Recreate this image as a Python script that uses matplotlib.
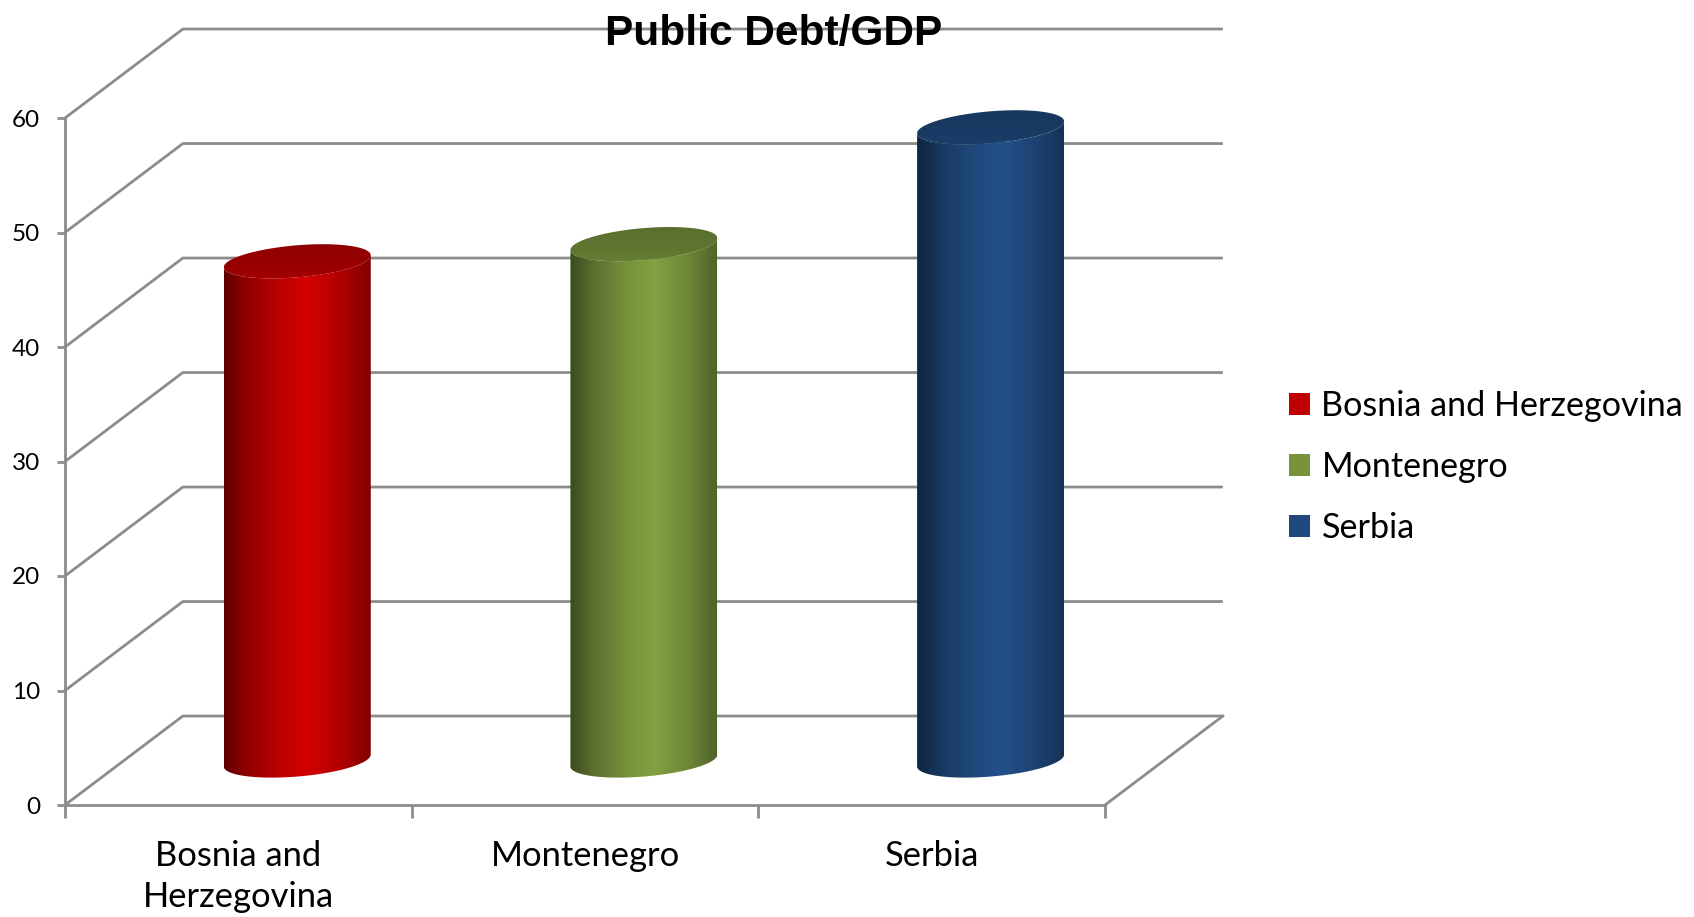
import numpy as np
import matplotlib
matplotlib.use('Agg')
import matplotlib.pyplot as plt
from matplotlib.patches import Polygon, Patch

plt.rcParams.update({'font.family': ['Lato', 'DejaVu Sans']})

# data
countries = ['Bosnia and Herzegovina', 'Montenegro', 'Serbia']
cat_labels = ['Bosnia and\nHerzegovina', 'Montenegro', 'Serbia']
debt = [43.6, 45.1, 55.3]
yticks = [0, 10, 20, 30, 40, 50, 60]
colors = ['#c00000', '#77933c', '#1f497d']

# fake 3d look: how far the back wall is shifted (data units)
dep_x, dep_y = 0.34, 7.77
grid_col = '#8c8c8c'


def shade(col, f):
    rgb = np.array(matplotlib.colors.to_rgb(col))
    return np.clip(rgb * f, 0, 1)


def cylinder(ax, cx, base, top, col, a=0.212, b=1.40, s=0.52):
    # front half of the ellipse, left -> right
    tl = np.linspace(np.pi, 2 * np.pi, 120)
    ex = cx + a * np.cos(tl)
    eo = b * np.sin(tl) + s * np.cos(tl)
    xs = np.concatenate([ex, ex[::-1]])
    ys = np.concatenate([base + eo, top + eo[::-1]])
    body = Polygon(np.column_stack([xs, ys]), closed=True, fc='none', ec='none')
    ax.add_patch(body)

    u = np.linspace(-1, 1, 200)
    f = np.interp(u, [-1, -0.7, -0.2, 0.15, 0.6, 1], [0.5, 0.75, 1.0, 1.1, 0.92, 0.68])
    img = np.array([[shade(col, fi) for fi in f]])
    im = ax.imshow(img, extent=[cx - a, cx + a, base - 3, top + 3], aspect='auto',
                   interpolation='bilinear', zorder=3)
    im.set_clip_path(body)

    # top cap, a bit lighter towards the front edge
    t = np.linspace(0, 2 * np.pi, 240)
    cap = Polygon(np.column_stack([cx + a * np.cos(t), top + b * np.sin(t) + s * np.cos(t)]),
                  closed=True, fc='none', ec='none')
    ax.add_patch(cap)
    v = np.linspace(0, 1, 60)
    fc = np.interp(v, [0, 0.35, 1], [0.9, 0.8, 0.74])
    cimg = np.array([[shade(col, fi)] for fi in fc])
    ci = ax.imshow(cimg, extent=[cx - a, cx + a, top - b - s - 0.2, top + b + s + 0.2],
                   origin='lower', aspect='auto', interpolation='bilinear', zorder=4)
    ci.set_clip_path(cap)


fig = plt.figure(figsize=(16.94, 9.17), dpi=100)
ax = fig.add_axes([65 / 1694, 112 / 917, 1040 / 1694, 68 * 11.45 / 917])

# walls and gridlines
for v in yticks:
    ax.plot([-0.5, -0.5 + dep_x, 2.5 + dep_x], [v, v + dep_y, v + dep_y],
            color=grid_col, lw=2, clip_on=False, zorder=1, solid_capstyle='butt')
ax.plot([2.5, 2.5 + dep_x], [0, dep_y], color=grid_col, lw=2, clip_on=False, zorder=1)

for i, v in enumerate(debt):
    cylinder(ax, i + dep_x / 2, dep_y / 2, v + dep_y / 2, colors[i])

ax.set_xlim(-0.5, 2.5)
ax.set_ylim(0, 68)

for k in ['top', 'right']:
    ax.spines[k].set_visible(False)
for k in ['left', 'bottom']:
    ax.spines[k].set_color(grid_col)
    ax.spines[k].set_linewidth(2)
ax.spines['left'].set_bounds(0, 60)
ax.spines['bottom'].set_bounds(-0.5, 2.5)

ax.set_yticks(yticks)
ax.tick_params(axis='y', length=6, width=2, color=grid_col, pad=12, labelsize=17.5)
ax.set_xticks([-0.5, 0.5, 1.5, 2.5], labels=['', '', '', ''])
ax.tick_params(axis='x', which='major', length=9, width=2, color=grid_col)
ax.set_xticks([0, 1, 2], labels=cat_labels, minor=True)
ax.tick_params(axis='x', which='minor', length=0, pad=25, labelsize=24.8)
for lab in ax.get_xticklabels(minor=True):
    lab.set_linespacing(1.34)
ax.patch.set_visible(False)

fig.text(774 / 1694, 1 - 34 / 917, 'Public Debt/GDP', ha='center', va='center',
         fontsize=30.5, fontweight='bold', family=['Liberation Sans', 'DejaVu Sans'])

handles = [Patch(facecolor=c, edgecolor='none') for c in colors]
fig.legend(handles, countries, loc='center left', bbox_to_anchor=(1289 / 1694, 1 - 467 / 917),
           frameon=False, fontsize=24.6, handlelength=0.62, handleheight=0.62,
           handletextpad=0.33, labelspacing=0.85, borderpad=0, borderaxespad=0)

fig.savefig('out.png', dpi=100)
